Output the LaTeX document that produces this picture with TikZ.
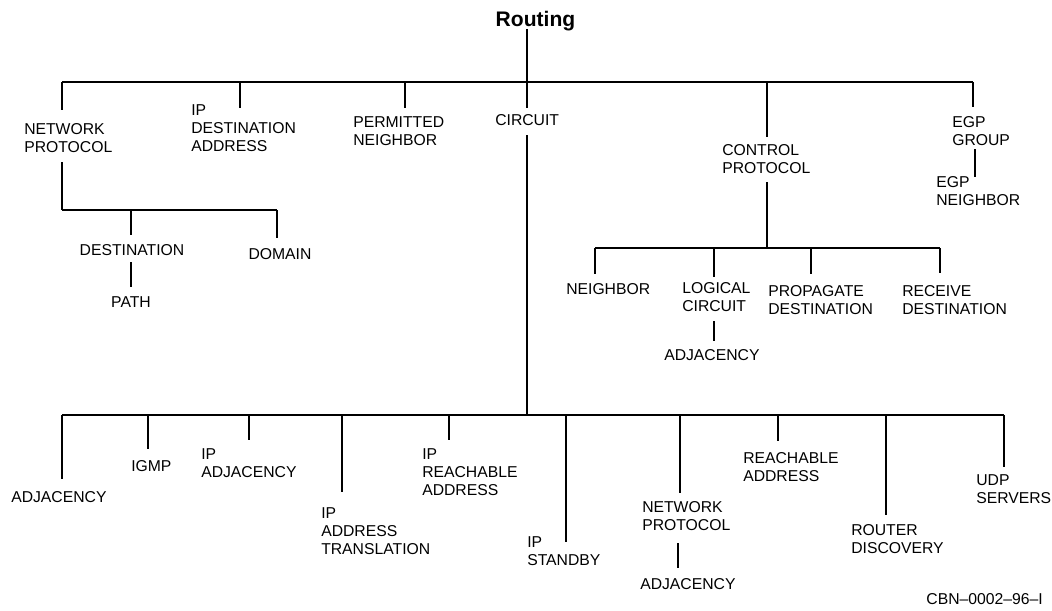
\documentclass[tikz,border=0pt]{standalone}
\usepackage{fontspec}
\setmainfont{Liberation Sans}
\begin{document}
\begin{tikzpicture}[x=0.75pt,y=-0.75pt,
  lbl/.style={inner sep=0pt,align=left,anchor=base west,
    font=\fontsize{11.8}{13.5}\selectfont},
  clbl/.style={lbl,anchor=base,align=center},
  link/.style={line width=0.9pt,black}]
\useasboundingbox (0,0) rectangle (1052,610);

% root (multi-line labels are placed by the baseline of their last line)
\node[inner sep=0pt,anchor=base,font=\fontsize{15.8}{18}\selectfont\bfseries] (root) at (535.5,27) {Routing};

% first level labels
\node[lbl] (np1)  at (24,152.5)  {NETWORK\\PROTOCOL};
\node[lbl] (ipd)  at (191,151.5) {IP\\DESTINATION\\ADDRESS};
\node[lbl] (pn)   at (353,145.5) {PERMITTED\\NEIGHBOR};
\node[lbl] (cir)  at (495,125.5) {CIRCUIT};
\node[lbl] (cp)   at (722,173.5) {CONTROL\\PROTOCOL};
\node[lbl] (egpg) at (952,145.5) {EGP\\GROUP};
\node[lbl] (egpn) at (936,205.5) {EGP\\NEIGHBOR};

% under network protocol
\node[clbl] (dest) at (132,255.5) {DESTINATION};
\node[clbl] (path) at (131,307.5) {PATH};
\node[clbl] (dom)  at (280,259.5) {DOMAIN};

% under control protocol
\node[lbl] (nb)   at (566,294.5) {NEIGHBOR};
\node[lbl] (lc)   at (682,311.5) {LOGICAL\\CIRCUIT};
\node[lbl] (adj1) at (664,360.5) {ADJACENCY};
\node[lbl] (prop) at (768,314.5) {PROPAGATE\\DESTINATION};
\node[lbl] (recv) at (902,314.5) {RECEIVE\\DESTINATION};

% under circuit
\node[lbl] (adj)   at (11,502.5)  {ADJACENCY};
\node[lbl] (igmp)  at (131,471.5) {IGMP};
\node[lbl] (ipadj) at (201,477.5) {IP\\ADJACENCY};
\node[lbl] (ipat)  at (321,554.5) {IP\\ADDRESS\\TRANSLATION};
\node[lbl] (ipra)  at (422,495.5) {IP\\REACHABLE\\ADDRESS};
\node[lbl] (ipsb)  at (527,565)   {IP\\STANDBY};
\node[lbl] (np2)   at (642,530.2) {NETWORK\\PROTOCOL};
\node[lbl] (adj2)  at (640,589.5) {ADJACENCY};
\node[lbl] (ra)    at (743,481.2) {REACHABLE\\ADDRESS};
\node[lbl] (rd)    at (851,553.5) {ROUTER\\DISCOVERY};
\node[lbl] (udp)   at (976,503.5) {UDP\\SERVERS};

\node[lbl,anchor=base east] (cbn) at (1043,604.5) {CBN--0002--96--I};

% bar junctions
\coordinate (top)  at (527,82);
\coordinate (npb)  at (62,210);
\coordinate (cpb)  at (767,248);
\coordinate (cib)  at (527,415);

% root to top bar
\draw[link] (527,29) -- (top);
\draw[link] (62,82) -- (973,82);
\draw[link] (62,82)  -- (62,110);
\draw[link] (240,82) -- (240,108);
\draw[link] (405,82) -- (405,108);
\draw[link] (527,82) -- (527,108);
\draw[link] (767,82) -- (767,137);
\draw[link] (973,82) -- (973,107);
\draw[link] (975,149) -- (975,177);

% network protocol branch
\draw[link] (62,162) -- (npb);
\draw[link] (npb) -- (277,210);
\draw[link] (131,210) -- (131,235);
\draw[link] (131,262) -- (131,287);
\draw[link] (277,210) -- (277,238);

% control protocol branch
\draw[link] (767,182) -- (cpb);
\draw[link] (595,248) -- (940,248);
\draw[link] (595,248) -- (595,274);
\draw[link] (714,248) -- (714,277);
\draw[link] (714,321) -- (714,341);
\draw[link] (811,248) -- (811,274);
\draw[link] (940,248) -- (940,273);

% circuit branch
\draw[link] (527,135) -- (cib);
\draw[link] (62,415) -- (1004,415);
\draw[link] (62,415)   -- (62,479);
\draw[link] (148,415)  -- (148,449);
\draw[link] (249,415)  -- (249,440);
\draw[link] (342,415)  -- (342,492);
\draw[link] (449,415)  -- (449,440);
\draw[link] (566,415)  -- (566,542);
\draw[link] (680,415)  -- (680,493);
\draw[link] (678,543)  -- (678,568);
\draw[link] (778,415)  -- (778,441);
\draw[link] (886,415)  -- (886,515);
\draw[link] (1004,415) -- (1004,467);
\end{tikzpicture}
\end{document}
